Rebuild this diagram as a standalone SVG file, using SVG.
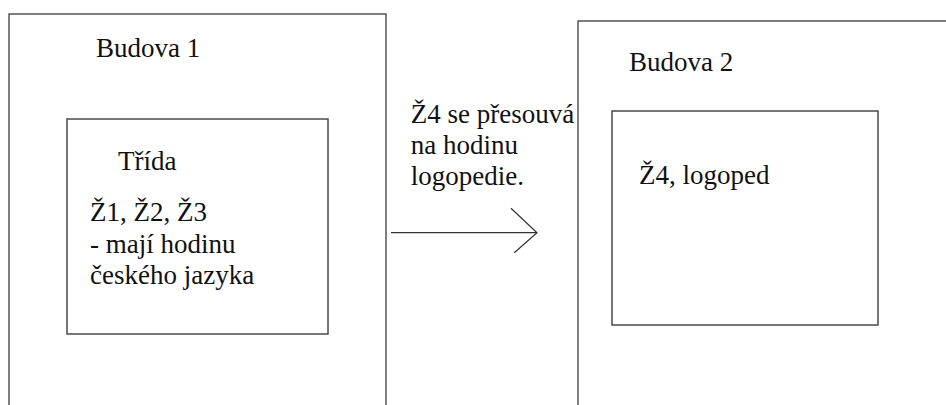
<svg xmlns="http://www.w3.org/2000/svg" width="946" height="405" viewBox="0 0 946 405">
<style>
.box{fill:none;stroke:#3a3a3a;stroke-width:1.3}
.inner{fill:none;stroke:#4a4a4a;stroke-width:1.5}
.t{font-family:"Liberation Serif","Times New Roman",serif;font-size:27px;fill:#111}
.c{fill:none;stroke:#333;stroke-width:1.2}
</style>
<rect width="946" height="405" fill="#fff"/>
<g id="budova1">
<rect class="box" x="9" y="14" width="377" height="420"/>
<text class="t" x="96" y="57">Budova 1</text>
</g>
<g id="trida">
<rect class="inner" x="67" y="119" width="261" height="215"/>
<text class="t" x="118" y="170">Třída</text>
<text class="t" x="90" y="221">Ž1, Ž2, Ž3</text>
<text class="t" x="90" y="253">- mají hodinu</text>
<text class="t" x="90" y="284">českého jazyka</text>
</g>
<g id="budova2">
<rect class="box" x="578" y="21" width="400" height="420"/>
<text class="t" x="629" y="71">Budova 2</text>
</g>
<g id="logoped">
<rect class="inner" x="612" y="111" width="266" height="214"/>
<text class="t" x="639" y="184">Ž4, logoped</text>
</g>
<g id="connectors">
<line class="c" x1="391" y1="232.7" x2="537" y2="232.7"/>
<polyline class="c" points="511,208.3 537,232.7 514.3,252.7"/>
<text class="t" x="410.7" y="123">Ž4 se přesouvá</text>
<text class="t" x="410.7" y="154">na hodinu</text>
<text class="t" x="410.7" y="185">logopedie.</text>
</g>
</svg>
